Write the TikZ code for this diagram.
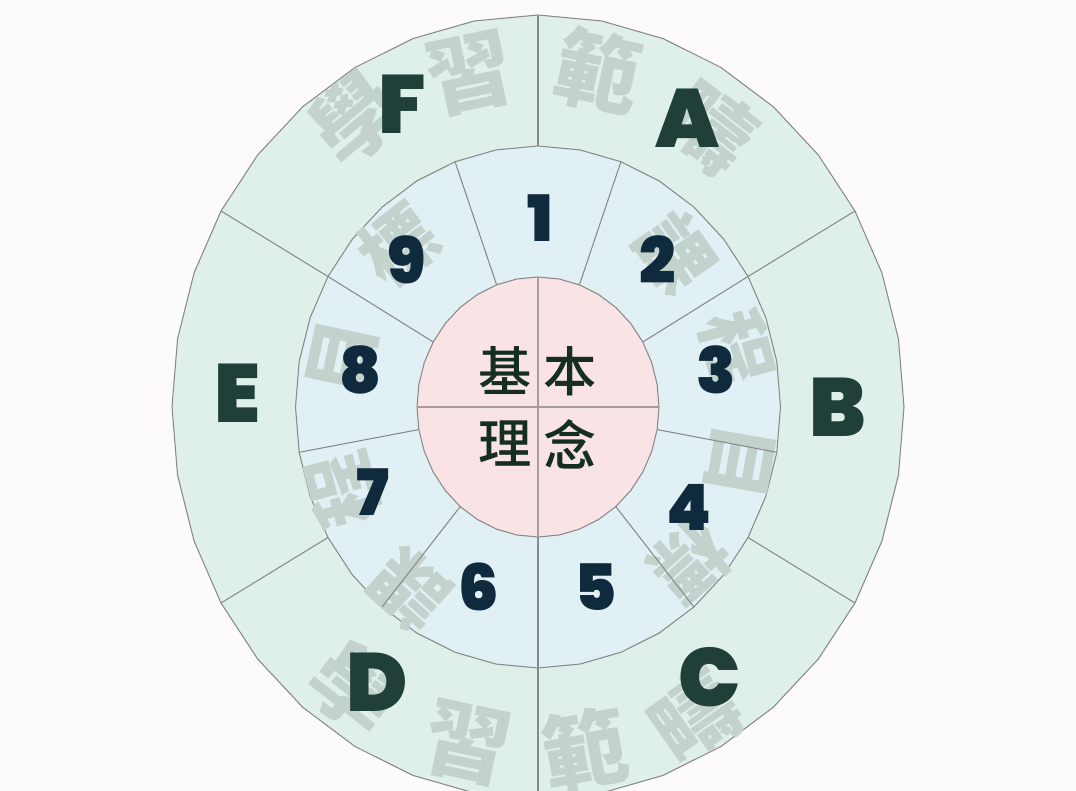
\documentclass[tikz,border=0pt]{standalone}
\usepackage{fontspec}
\setmainfont{Liberation Sans}
\IfFontExistsTF{Poppins Black}
  {\newfontfamily\heavyA{Poppins Black}}
  {\IfFontExistsTF{Fira Sans Heavy}
     {\newfontfamily\heavyA{Fira Sans Heavy}}
     {\newfontfamily\heavyA{Liberation Sans Bold}}}
\IfFontExistsTF{Noto Sans CJK TC Black}
  {\newfontfamily\cjkheavy{Noto Sans CJK TC Black}}
  {\IfFontExistsTF{Noto Sans CJK TC Bold}
     {\newfontfamily\cjkheavy{Noto Sans CJK TC Bold}}
     {\newfontfamily\cjkheavy{Noto Sans CJK TC}}}
\IfFontExistsTF{Noto Sans CJK TC Medium}
  {\newfontfamily\cjk{Noto Sans CJK TC Medium}}
  {\newfontfamily\cjk{Noto Sans CJK TC}}
\definecolor{bgcol}{HTML}{FDFAFB}
\definecolor{outerfill}{HTML}{DEF0E9}
\definecolor{midfill}{HTML}{E0F0F4}
\definecolor{innerfill}{HTML}{F9E3E5}
\definecolor{linegray}{HTML}{8A8A8A}
\definecolor{crossgray}{HTML}{A39C9C}
\definecolor{lettercol}{HTML}{1F3F38}
\definecolor{digitcol}{HTML}{0F2A3D}
\definecolor{centercol}{HTML}{142E22}
\definecolor{wmcol}{HTML}{C3D2CD}
\tikzset{
  ringline/.style={draw=linegray, line width=0.8pt},
  crossline/.style={draw=crossgray, line width=1.4pt},
  letterlab/.style={font=\heavyA\fontsize{62}{62}\selectfont, text=lettercol, inner sep=0},
  digitlab/.style={font=\heavyA\fontsize{48}{48}\selectfont, text=digitcol, inner sep=0},
  centerlab/.style={font=\cjk\fontsize{40}{40}\selectfont, text=centercol, inner sep=0},
  wmout/.style={font=\cjkheavy\fontsize{64}{64}\selectfont, text=wmcol, inner sep=0},
  wmmid/.style={font=\cjkheavy\fontsize{56}{56}\selectfont, text=wmcol, inner sep=0},
}
\begin{document}
\begin{tikzpicture}[x=0.75pt,y=-0.75pt]
\useasboundingbox (0,0) rectangle (1076,791);
\clip (0,0) rectangle (1076,791);
\fill[bgcol] (0,0) rectangle (1076,791);
% outer ring
\filldraw[fill=outerfill, ringline] plot[samples=37,domain=0:360,variable=\t] ({538+366*cos(\t)},{407-392*sin(\t)}) -- cycle;
% outer watermarks
\node[wmout, rotate=40] (wA1) at (355,118) {學};
\node[wmout, rotate=12] (wA2) at (470,74) {習};
\node[wmout, rotate=-12] (wA3) at (598,71) {範};
\node[wmout, rotate=-38] (wA4) at (710,127) {疇};
\node[wmout, rotate=-38] (wB1) at (355,688) {學};
\node[wmout, rotate=-12] (wB2) at (468,743) {習};
\node[wmout, rotate=10] (wB3) at (585,750) {範};
\node[wmout, rotate=35] (wB4) at (695,717) {疇};
% middle ring
\filldraw[fill=midfill, ringline] plot[samples=37,domain=0:360,variable=\t] ({538+242.5*cos(\t)},{407-261*sin(\t)}) -- cycle;
% middle watermarks
\node[wmmid, rotate=-55] (wC1) at (675,253) {課};
\node[wmmid, rotate=-75] (wC2) at (737,348) {程};
\node[wmmid, rotate=-100] (wC3) at (740,462) {目};
\node[wmmid, rotate=-138] (wC4) at (690,562) {標};
\node[wmmid, rotate=138] (wD1) at (410,590) {課};
\node[wmmid, rotate=105] (wD2) at (343,490) {程};
\node[wmmid, rotate=78] (wD3) at (343,357) {目};
\node[wmmid, rotate=38] (wD4) at (398,245) {標};
% inner circle
\filldraw[fill=innerfill, ringline] plot[samples=37,domain=0:360,variable=\t] ({538+121*cos(\t)},{407-130*sin(\t)}) -- cycle;
% radial lines in middle ring
\foreach \a in {30,70,...,350} {
  \coordinate (i\a) at ({538+121*cos(\a)},{407-130*sin(\a)});
  \coordinate (m\a) at ({538+242.5*cos(\a)},{407-261*sin(\a)});
  \draw[ringline] (i\a) -- (m\a);
}
% radial lines in outer ring
\foreach \a in {30,90,...,330} {
  \coordinate (n\a) at ({538+242.5*cos(\a)},{407-261*sin(\a)});
  \coordinate (o\a) at ({538+366*cos(\a)},{407-392*sin(\a)});
  \draw[ringline] (n\a) -- (o\a);
}
% inner cross
\coordinate (ct) at (538,277);
\coordinate (cb) at (538,537);
\coordinate (cl) at (417,407);
\coordinate (cr) at (659,407);
\draw[crossline] (ct) -- (cb);
\draw[crossline] (cl) -- (cr);
% centre text
\node[centerlab] (k1) at (505,371) {基};
\node[centerlab] (k2) at (570,371) {本};
\node[centerlab] (k3) at (505,444) {理};
\node[centerlab] (k4) at (570,444) {念};
% letters
\node[letterlab] (lA) at (687,118) {A};
\node[letterlab] (lB) at (838,407) {B};
\node[letterlab] (lC) at (710,677) {C};
\node[letterlab] (lD) at (377,682) {D};
\node[letterlab] (lE) at (237,393) {E};
\node[letterlab] (lF) at (402,104) {F};
% digits
\node[digitlab] (d1) at (540,218) {1};
\node[digitlab] (d2) at (658,260) {2};
\node[digitlab] (d3) at (716,370) {3};
\node[digitlab] (d4) at (689,507) {4};
\node[digitlab] (d5) at (596,587) {5};
\node[digitlab] (d6) at (479,587) {6};
\node[digitlab] (d7) at (373,492) {7};
\node[digitlab] (d8) at (361,370) {8};
\node[digitlab] (d9) at (407,260) {9};
\end{tikzpicture}
\end{document}
